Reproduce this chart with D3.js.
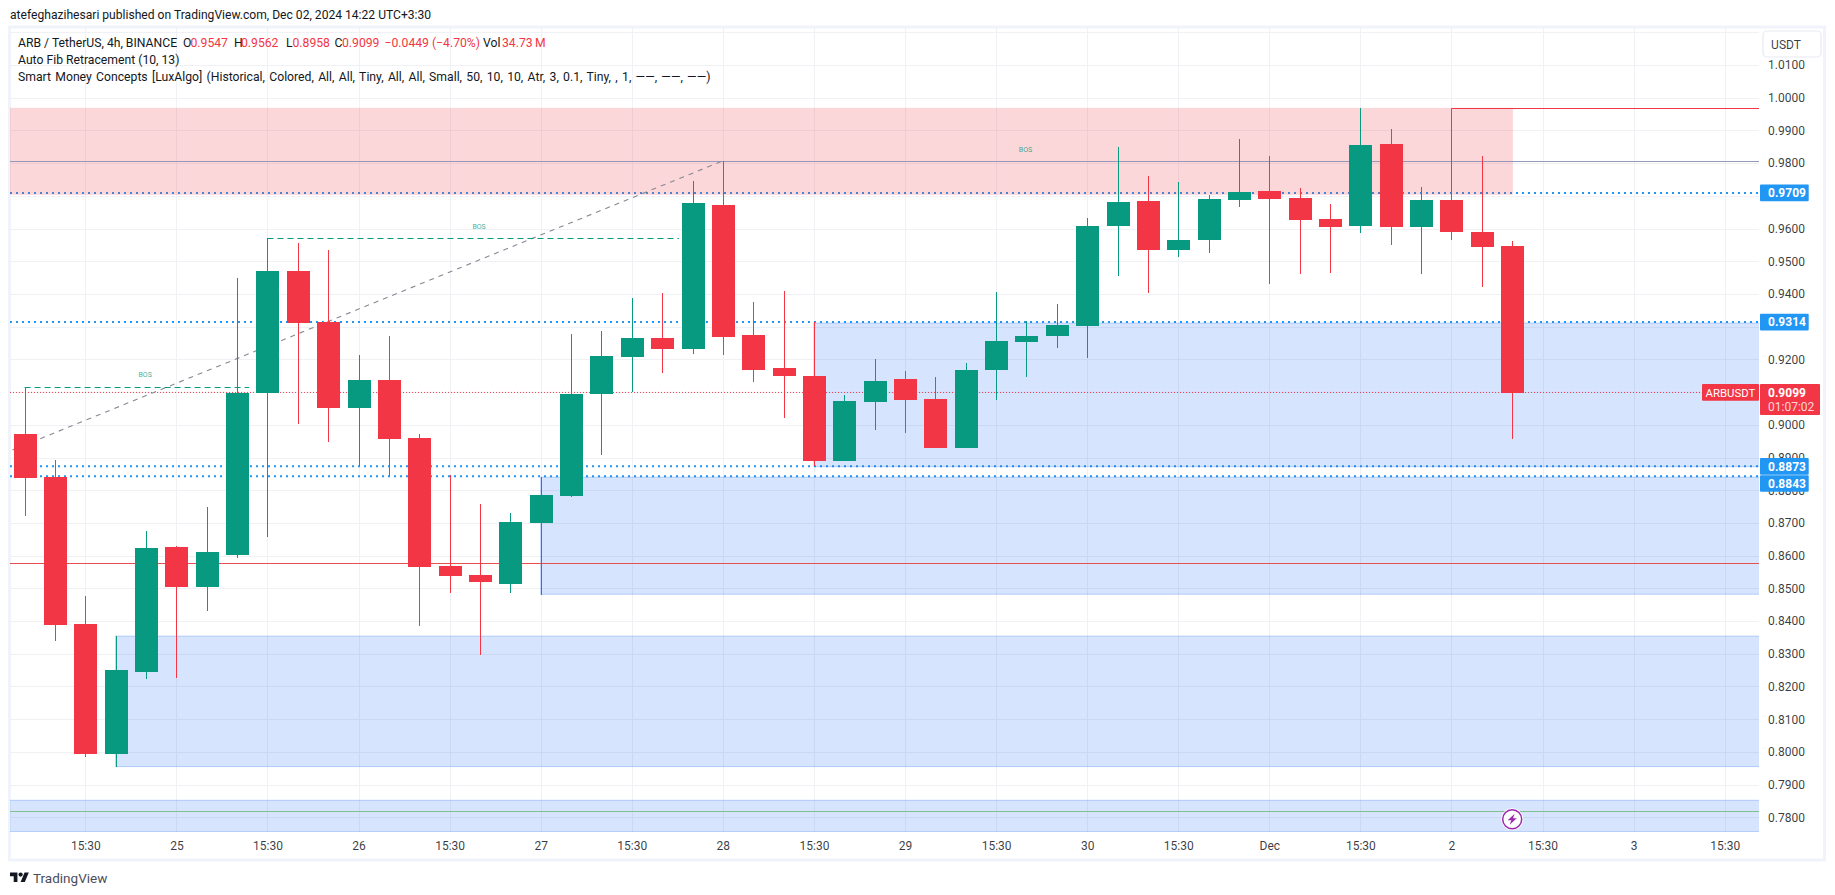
<!DOCTYPE html>
<html>
<head>
<meta charset="utf-8">
<title>ARBUSDT 4h</title>
<script src="https://cdn.jsdelivr.net/npm/d3@7"></script>
<style>
  html, body { margin: 0; padding: 0; background: #fff; }
  text { font-family: Roboto, "Open Sans", sans-serif; }
  .tick text { font-family: Roboto, sans-serif; }
</style>
</head>
<body>
<div id="chart"></div>
<script>
// candles (bar 0 = first candle on the left)
var opens = [0.8972,0.8840,0.8391,0.7994,0.8244,0.8626,0.8504,0.8602,0.9097,0.9470,
             0.9314,0.9051,0.9137,0.8960,0.8568,0.8541,0.8513,0.8700,0.8782,0.9094,
             0.9207,0.9265,0.9232,0.9672,0.9275,0.9174,0.9149,0.8889,0.9070,0.9140,
             0.9079,0.8929,0.9168,0.9253,0.9272,0.9302,0.9608,0.9684,0.9534,0.9565,
             0.9687,0.9715,0.9693,0.9629,0.9608,0.9858,0.9605,0.9687,0.9589,0.9547];
var highs = [0.9116,0.8892,0.8477,0.8354,0.8675,0.8630,0.8749,0.9449,0.9571,0.9556,
             0.9534,0.9213,0.9272,0.8972,0.8847,0.8758,0.8730,0.8840,0.9278,0.9287,
             0.9388,0.9403,0.9745,0.9807,0.9375,0.9409,0.9314,0.9091,0.9201,0.9165,
             0.9146,0.9189,0.9406,0.9317,0.9369,0.9632,0.9849,0.9761,0.9742,0.9703,
             0.9874,0.9822,0.9724,0.9675,0.9969,0.9904,0.9727,0.9687,0.9822,0.9562];
var lows  = [0.8721,0.8339,0.7984,0.7954,0.8223,0.8226,0.8431,0.8593,0.8657,0.9002,
             0.8947,0.8874,0.8843,0.8385,0.8486,0.8296,0.8486,0.8480,0.8779,0.8908,
             0.9100,0.9158,0.9216,0.9213,0.9131,0.9021,0.8874,0.8889,0.8984,0.8975,
             0.8929,0.8929,0.9076,0.9146,0.9235,0.9204,0.9455,0.9403,0.9513,0.9525,
             0.9666,0.9430,0.9461,0.9464,0.9586,0.9550,0.9461,0.9565,0.9421,0.8958];
var closes = [0.8837,0.8388,0.7994,0.8250,0.8623,0.8504,0.8611,0.9097,0.9470,0.9311,
              0.9051,0.9137,0.8957,0.8565,0.8538,0.8519,0.8703,0.8785,0.9094,0.9210,
              0.9265,0.9232,0.9678,0.9268,0.9168,0.9149,0.8889,0.9073,0.9134,0.9076,
              0.8929,0.9168,0.9256,0.9272,0.9305,0.9608,0.9681,0.9534,0.9565,0.9690,
              0.9712,0.9690,0.9626,0.9605,0.9855,0.9605,0.9687,0.9589,0.9544,0.9099];

// axis ticks
var gridPrices = [1.02,1.01,1.00,0.99,0.98,0.97,0.96,0.95,0.94,0.93,0.92,0.91,0.90,0.89,0.88,
                  0.87,0.86,0.85,0.84,0.83,0.82,0.81,0.80,0.79,0.78];
// 0.97, 0.93 and 0.91 are covered by the price tags in the original, 1.02 by the button
var priceTicks = [1.01,1.00,0.99,0.98,0.96,0.95,0.94,0.92,0.90,0.89,0.88,
                  0.87,0.86,0.85,0.84,0.83,0.82,0.81,0.80,0.79,0.78];
var timeLabels = ["15:30","25","15:30","26","15:30","27","15:30","28","15:30","29",
                  "15:30","30","15:30","Dec","15:30","2","15:30","3","15:30"];
var timeBars = timeLabels.map(function(d, i) { return 2 + i * 3; });

// levels drawn over the chart
var fibLevels = [0.9709, 0.9314, 0.8873, 0.8843];
var lastPrice = 0.9099;
var solidLevels = [{v: 0.9807, c: "#9598b8"}, {v: 0.8577, c: "#e8504f"}, {v: 0.7818, c: "#81bf8c"}];
// [from bar, top price, bottom price], null = from the left edge
var blueZones = [[26, 0.9311, 0.8872], [17, 0.8840, 0.8482], [3, 0.8354, 0.7955], [null, 0.7852, 0.7756]];
var redZone = [0.9969, 0.9703];
var bosLines = [{from: 0, to: 7.4, v: 0.9116}, {from: 8, to: 21.55, v: 0.9571}];
var bosLabels = [{bar: 3.97, v: 0.9146}, {bar: 14.97, v: 0.9598}, {bar: 32.97, v: 0.9833}];
var structure = {bar: 47, top: 0.9969, bottom: 0.9687};
var trend = {from: -0.4, fromV: 0.8923, to: 23, toV: 0.9807};

var width = 1835, height = 895;
var plot = {left: 10, right: 1759, top: 28, bottom: 832};

var x = d3.scaleLinear().domain([0, 49]).range([24.6, 1512.2]);
var y = d3.scaleLinear().domain([0.78, 1.01]).range([817.3, 65]);

var svg = d3.select("#chart").append("svg")
    .attr("width", width)
    .attr("height", height)
    .style("display", "block");

svg.append("clipPath").attr("id", "plotclip")
  .append("rect")
    .attr("x", plot.left).attr("y", plot.top)
    .attr("width", plot.right - plot.left).attr("height", plot.bottom - plot.top);

// frame
svg.append("rect")
    .attr("x", 9.5).attr("y", 27)
    .attr("width", 1815).attr("height", 833)
    .attr("fill", "#fff")
    .attr("stroke", "#f0f3fa")
    .attr("stroke-width", 3);

svg.append("text")
    .attr("x", 10).attr("y", 19)
    .attr("font-size", 12.1)
    .attr("fill", "#131722")
    .text("atefeghazihesari published on TradingView.com, Dec 02, 2024 14:22 UTC+3:30");

var chart = svg.append("g").attr("clip-path", "url(#plotclip)");

// grid
chart.selectAll(".hgrid")
    .data(gridPrices)
  .enter().append("line")
    .attr("class", "hgrid")
    .attr("x1", plot.left).attr("x2", plot.right)
    .attr("y1", function(d) { return Math.round(y(d)) + 0.5; })
    .attr("y2", function(d) { return Math.round(y(d)) + 0.5; })
    .attr("stroke", "#f0f1f4");
chart.selectAll(".vgrid")
    .data(timeBars)
  .enter().append("line")
    .attr("class", "vgrid")
    .attr("x1", function(d) { return Math.round(x(d)) + 0.5; })
    .attr("x2", function(d) { return Math.round(x(d)) + 0.5; })
    .attr("y1", plot.top).attr("y2", plot.bottom)
    .attr("stroke", "#f0f1f4");

// fib levels sit under the zones
chart.selectAll(".fib")
    .data(fibLevels)
  .enter().append("line")
    .attr("class", "fib")
    .attr("x1", plot.left).attr("x2", plot.right)
    .attr("y1", function(d) { return y(d); })
    .attr("y2", function(d) { return y(d); })
    .attr("stroke", "#2196f3")
    .attr("stroke-width", 2)
    .attr("stroke-dasharray", "2,4");

// order block zones
chart.selectAll(".zone")
    .data(blueZones)
  .enter().append("rect")
    .attr("class", "zone")
    .attr("x", function(d) { return d[0] === null ? plot.left - 2 : x(d[0]); })
    .attr("y", function(d) { return y(d[1]); })
    .attr("width", function(d) { return plot.right + 2 - (d[0] === null ? plot.left - 2 : x(d[0])); })
    .attr("height", function(d) { return y(d[2]) - y(d[1]); })
    .attr("fill", "#2771f4")
    .attr("fill-opacity", 0.19)
    .attr("stroke", "#2771f4")
    .attr("stroke-opacity", 0.28);

chart.append("rect")
    .attr("x", plot.left)
    .attr("y", y(redZone[0]))
    .attr("width", x(49) + 0.7 - plot.left)
    .attr("height", y(redZone[1]) - y(redZone[0]))
    .attr("fill", "#f23645")
    .attr("fill-opacity", 0.2);

// horizontal levels
chart.selectAll(".level")
    .data(solidLevels)
  .enter().append("line")
    .attr("class", "level")
    .attr("x1", plot.left).attr("x2", plot.right)
    .attr("y1", function(d) { return Math.round(y(d.v)) + 0.5; })
    .attr("y2", function(d) { return Math.round(y(d.v)) + 0.5; })
    .attr("stroke", function(d) { return d.c; });

chart.append("line")
    .attr("x1", plot.left).attr("x2", plot.right)
    .attr("y1", y(lastPrice)).attr("y2", y(lastPrice))
    .attr("stroke", "#f23645")
    .attr("stroke-dasharray", "1,2");

// fib trend line
chart.append("line")
    .attr("x1", x(trend.from)).attr("y1", y(trend.fromV))
    .attr("x2", x(trend.to)).attr("y2", y(trend.toV))
    .attr("stroke", "#868993")
    .attr("stroke-width", 1.1)
    .attr("stroke-dasharray", "5,5");

// break of structure
chart.selectAll(".bos")
    .data(bosLines)
  .enter().append("line")
    .attr("class", "bos")
    .attr("x1", function(d) { return x(d.from); })
    .attr("x2", function(d) { return x(d.to); })
    .attr("y1", function(d) { return Math.round(y(d.v)) + 0.5; })
    .attr("y2", function(d) { return Math.round(y(d.v)) + 0.5; })
    .attr("stroke", "#089981")
    .attr("stroke-dasharray", "6,4");

chart.selectAll(".boslabel")
    .data(bosLabels)
  .enter().append("text")
    .attr("class", "boslabel")
    .attr("x", function(d) { return x(d.bar); })
    .attr("y", function(d) { return y(d.v); })
    .attr("text-anchor", "middle")
    .attr("font-size", 7)
    .attr("fill", "#089981")
    .attr("fill-opacity", 0.8)
    .text("BOS");

chart.append("path")
    .attr("d", "M" + (Math.round(x(structure.bar)) + 0.5) + "," + y(structure.bottom) +
               "V" + (Math.round(y(structure.top)) + 0.5) + "H" + plot.right)
    .attr("fill", "none")
    .attr("stroke", "#f23645");

// candles
var bars = closes.map(function(c, i) {
  return {i: i, open: opens[i], high: highs[i], low: lows[i], close: c};
});
function barColor(d) { return d.close >= d.open ? "#089981" : "#f23645"; }
var bodyWidth = 23;

var candle = chart.selectAll(".candle")
    .data(bars)
  .enter().append("g")
    .attr("class", "candle");
candle.append("line")
    .attr("x1", function(d) { return Math.round(x(d.i)) + 0.5; })
    .attr("x2", function(d) { return Math.round(x(d.i)) + 0.5; })
    .attr("y1", function(d) { return y(d.high); })
    .attr("y2", function(d) { return y(d.low); })
    .attr("stroke", barColor)
    .attr("shape-rendering", "crispEdges");
candle.append("rect")
    .attr("x", function(d) { return Math.round(x(d.i)) - 11; })
    .attr("width", bodyWidth)
    .attr("y", function(d) { return Math.round(y(Math.max(d.open, d.close))); })
    .attr("height", function(d) { return Math.max(1, Math.round(Math.abs(y(d.open) - y(d.close)))); })
    .attr("fill", barColor);

// lightning marker on the last bar
var bolt = chart.append("g")
    .attr("transform", "translate(" + x(49) + "," + y(0.7794) + ")");
bolt.append("circle").attr("r", 11).attr("fill", "#fff");
bolt.append("circle").attr("r", 9.5).attr("fill", "#fff").attr("stroke", "#9c27b0").attr("stroke-width", 1.5);
bolt.append("path").attr("d", "M2.5,-5.5L-4.5,1H-0.8L-2.5,5.5L4.5,-1H0.8Z").attr("fill", "#9c27b0");

// axes
var yAxis = svg.append("g")
    .attr("transform", "translate(" + plot.right + ",0)")
    .call(d3.axisRight(y).tickValues(priceTicks).tickSize(0).tickPadding(9).tickFormat(d3.format(".4f")));
yAxis.select(".domain").remove();
yAxis.selectAll("text").attr("font-size", 12).attr("fill", "#131722").attr("fill-opacity", 0.85);

var xAxis = svg.append("g")
    .attr("transform", "translate(0," + plot.bottom + ")")
    .call(d3.axisBottom(x).tickValues(timeBars).tickSize(0).tickPadding(9)
      .tickFormat(function(d, i) { return timeLabels[i]; }));
xAxis.select(".domain").remove();
xAxis.selectAll("text").attr("font-size", 12).attr("fill", "#131722").attr("fill-opacity", 0.85);

// price labels on the axis
svg.selectAll(".fibtag")
    .data(fibLevels)
  .enter().append("rect")
    .attr("class", "fibtag")
    .attr("x", plot.right + 1)
    .attr("y", function(d, i) { return (i == 3 ? y(d) + 7.3 : y(d)) - 8.3; })
    .attr("width", 48.7)
    .attr("height", 16.7)
    .attr("rx", 1)
    .attr("fill", "#2196f3");
svg.selectAll(".fibval")
    .data(fibLevels)
  .enter().append("text")
    .attr("class", "fibval")
    .attr("x", plot.right + 9)
    .attr("y", function(d, i) { return (i == 3 ? y(d) + 7.3 : y(d)) + 4.4; })
    .attr("font-size", 12)
    .attr("font-weight", 700)
    .attr("fill", "#fff")
    .text(function(d) { return d.toFixed(4); });

svg.append("rect")
    .attr("x", plot.right + 1).attr("y", y(lastPrice) - 8.3)
    .attr("width", 60).attr("height", 31)
    .attr("rx", 1).attr("fill", "#f23645");
svg.append("text")
    .attr("x", plot.right + 9).attr("y", y(lastPrice) + 4.4)
    .attr("font-size", 12).attr("font-weight", 700).attr("fill", "#fff")
    .text(lastPrice.toFixed(4));
svg.append("text")
    .attr("x", plot.right + 9).attr("y", y(lastPrice) + 18.4)
    .attr("font-size", 12).attr("fill", "#fff").attr("fill-opacity", 0.8)
    .text("01:07:02");
svg.append("rect")
    .attr("x", 1702).attr("y", y(lastPrice) - 8.3)
    .attr("width", 57).attr("height", 16.7)
    .attr("rx", 1).attr("fill", "#f23645");
svg.append("text")
    .attr("x", 1730.5).attr("y", y(lastPrice) + 4.4)
    .attr("text-anchor", "middle")
    .attr("font-size", 11.4).attr("fill", "#fff")
    .text("ARBUSDT");

// currency button
svg.append("rect")
    .attr("x", 1763).attr("y", 31)
    .attr("width", 58).attr("height", 26)
    .attr("rx", 4)
    .attr("fill", "#fff")
    .attr("stroke", "#e8eaf2")
    .attr("stroke-width", 1.2);
svg.append("text")
    .attr("x", 1786).attr("y", 49)
    .attr("text-anchor", "middle")
    .attr("font-size", 12).attr("fill", "#131722").attr("fill-opacity", 0.85)
    .text("USDT");

// legend
var legendHead = "ARB / TetherUS, 4h, BINANCE";
var legendKeys = ["O", "H", "L", "C"];
var legendVals = ["0.9547", "0.9562", "0.8958", "0.9099"];
var legendChange = "\u22120.0449 (\u22124.70%)";
var legendVol = "34.73\u2009M";
var legendLines = ["Auto Fib Retracement (10, 13)",
  "Smart Money Concepts [LuxAlgo] (Historical, Colored, All, All, Tiny, All, All, Small, 50, 10, 10, Atr, 3, 0.1, Tiny, , 1, \u2014\u2014, \u2014\u2014, \u2014\u2014)"];

var legend = svg.append("g").attr("font-size", 12.2).attr("fill", "#131722");
legend.append("text").attr("x", 18).attr("y", 46.6).text(legendHead);
var keyX = [183, 234, 286, 334.5], valX = [190.5, 241, 292.5, 342];
legend.selectAll(".lkey").data(legendKeys).enter().append("text")
    .attr("class", "lkey")
    .attr("x", function(d, i) { return keyX[i]; }).attr("y", 46.6).text(function(d) { return d; });
legend.selectAll(".lval").data(legendVals).enter().append("text")
    .attr("class", "lval")
    .attr("x", function(d, i) { return valX[i]; }).attr("y", 46.6)
    .attr("fill", "#f23645").text(function(d) { return d; });
legend.append("text").attr("x", 384.5).attr("y", 46.6).attr("fill", "#f23645").text(legendChange);
legend.append("text").attr("x", 483).attr("y", 46.6).text("Vol");
legend.append("text").attr("x", 502).attr("y", 46.6).attr("fill", "#f23645").text(legendVol);
legend.selectAll(".lline").data(legendLines).enter().append("text")
    .attr("class", "lline")
    .attr("x", 18)
    .attr("y", function(d, i) { return 63.6 + i * 17; })
    .attr("word-spacing", function(d, i) { return i == 1 ? 1.3 : 0; })
    .text(function(d) { return d; });

// footer logo
var logo = svg.append("g").attr("transform", "translate(10,870.3) scale(0.53)");
logo.append("path").attr("d", "M14 22H7V11H0V4h14v18zM28 22h-8l7.5-18h8L28 22z").attr("fill", "#131722");
logo.append("circle").attr("cx", 20).attr("cy", 8).attr("r", 4).attr("fill", "#131722");
svg.append("text")
    .attr("x", 33).attr("y", 882.5)
    .attr("font-size", 13.5)
    .attr("fill", "#4a4e59")
    .text("TradingView");
</script>
</body>
</html>
